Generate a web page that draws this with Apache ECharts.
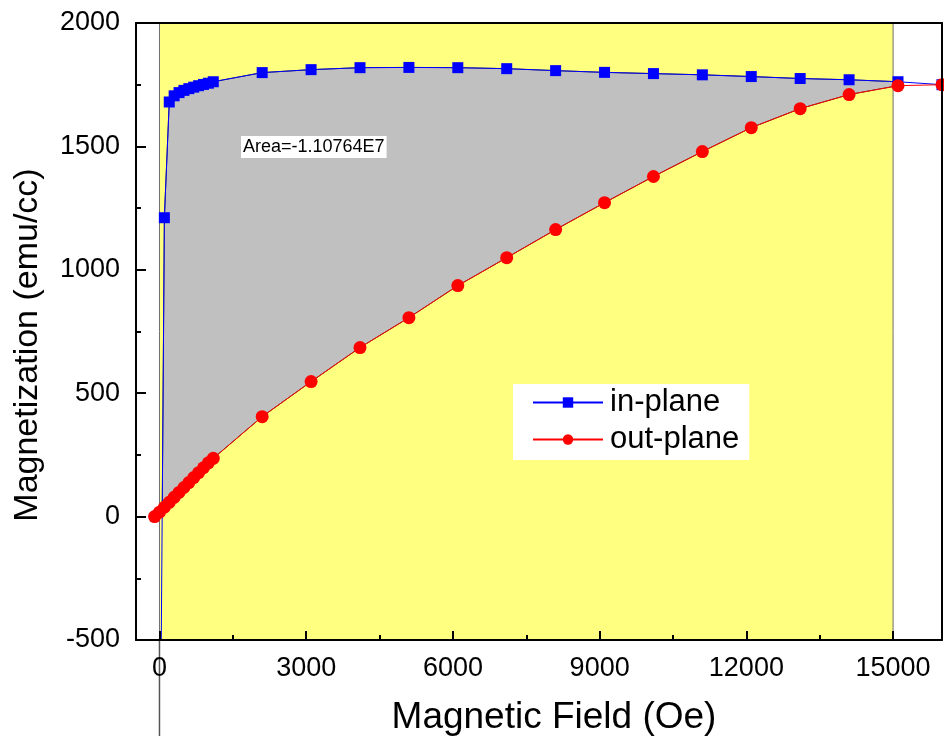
<!DOCTYPE html>
<html><head><meta charset="utf-8">
<script src="https://cdn.jsdelivr.net/npm/echarts@6/dist/echarts.min.js"></script>
<style>html,body{margin:0;padding:0;background:#fff}#c{width:944px;height:736px}</style>
</head><body><div id="c"></div>
<script>
// ---- data ----
const inPlaneX = [0, 100, 200, 300, 400, 500, 600, 700, 800, 900, 1000, 1100,
  2100, 3100, 4100, 5100, 6100, 7100, 8100, 9100, 10100, 11100, 12100, 13100, 14100, 15100, 16000];
const inPlaneY = [-1500, 1211, 1680, 1705, 1718, 1727, 1734, 1740, 1746, 1751, 1756, 1762,
  1799, 1811, 1819, 1820, 1819, 1815, 1807, 1800, 1795, 1790, 1783, 1775, 1770, 1762, 1750];
const outPlaneX = [-100, 0, 100, 200, 300, 400, 500, 600, 700, 800, 900, 1000, 1100,
  2100, 3100, 4100, 5100, 6100, 7100, 8100, 9100, 10100, 11100, 12100, 13100, 14100, 15100, 16000];
const outPlaneY = [0, 18, 38, 58, 78, 98, 118, 138, 158, 178, 198, 218, 236,
  405, 547, 685, 806, 936, 1049, 1163, 1272, 1378, 1479, 1576, 1653, 1710, 1746, 1750];
const xTickValues = [0, 3000, 6000, 9000, 12000, 15000];
const xMinorTickValues = [1500, 4500, 7500, 10500, 13500];
const areaRange = [0, 15000];
const areaLabel = 'Area=-1.10764E7';
const legendNames = ['in-plane', 'out-plane'];
const xTitle = 'Magnetic Field (Oe)';
const yTitle = 'Magnetization (emu/cc)';

// ---- helpers ----
function interp(xs, ys, x) {
  for (let i = 0; i < xs.length - 1; i++) {
    if (x >= xs[i] && x <= xs[i + 1]) {
      const t = (x - xs[i]) / (xs[i + 1] - xs[i]);
      return ys[i] + t * (ys[i + 1] - ys[i]);
    }
  }
  return NaN;
}
function fillPoints() {
  const lo = Math.max(areaRange[0], inPlaneX[0], outPlaneX[0]);
  const hi = areaRange[1];
  const g = x => interp(inPlaneX, inPlaneY, x) - interp(outPlaneX, outPlaneY, x);
  let a = lo, b = inPlaneX[1], x0 = lo;
  if (g(a) < 0) {
    for (let k = 0; k < 60; k++) { const m = (a + b) / 2; if (g(m) < 0) a = m; else b = m; }
    x0 = (a + b) / 2;
  }
  const pts = [[x0, interp(inPlaneX, inPlaneY, x0)]];
  inPlaneX.forEach((x, i) => { if (x > x0 && x < hi) pts.push([x, inPlaneY[i]]); });
  pts.push([hi, interp(inPlaneX, inPlaneY, hi)]);
  pts.push([hi, interp(outPlaneX, outPlaneY, hi)]);
  for (let i = outPlaneX.length - 1; i >= 0; i--) {
    if (outPlaneX[i] > x0 && outPlaneX[i] < hi) pts.push([outPlaneX[i], outPlaneY[i]]);
  }
  pts.push([x0, interp(outPlaneX, outPlaneY, x0)]);
  return pts;
}

const FONT = 'Liberation Sans, Arial, sans-serif';
const XMIN = -480, XMAX = 16000;
const chart = echarts.init(document.getElementById('c'), null, {renderer: 'canvas'});
const axisLineStyle = {color: '#000', width: 2};
const plain = v => String(v);

chart.setOption({
  animation: false,
  backgroundColor: '#fff',
  grid: {left: 136, right: 2, top: 23, bottom: 96, containLabel: false},
  legend: {
    data: legendNames,
    orient: 'vertical',
    left: 513, top: 384,
    backgroundColor: '#fff',
    padding: [3, 10, 5, 19],
    itemWidth: 70, itemHeight: 13, itemGap: 6,
    textStyle: {fontFamily: FONT, fontSize: 31, color: '#000', padding: [0, 0, 0, 2]}
  },
  graphic: [
    {
      type: 'text', left: 241, top: 136, z: 50,
      style: {text: areaLabel, font: '18px ' + FONT, fill: '#000', backgroundColor: '#fff', padding: [2, 2, 2, 2]}
    },
    {
      type: 'text', x: 554, y: 718, z: 50,
      style: {text: xTitle, font: '37px ' + FONT, fill: '#000', textAlign: 'center', textVerticalAlign: 'middle'}
    },
    {
      type: 'text', x: 28, y: 345, rotation: Math.PI / 2, z: 50,
      style: {text: yTitle, font: '34px ' + FONT, fill: '#000', textAlign: 'center', textVerticalAlign: 'middle'}
    }
  ],
  xAxis: [
    {
      type: 'value', min: XMIN, max: XMAX, position: 'bottom', z: 10,
      axisLine: {show: true, onZero: false, lineStyle: axisLineStyle},
      axisTick: {show: false},
      axisLabel: {show: true, customValues: xTickValues, margin: 15, fontFamily: FONT, fontSize: 27, color: '#000', formatter: plain},
      splitLine: {show: false}
    },
    {
      type: 'value', min: XMIN, max: XMAX, position: 'bottom', z: 11,
      axisLine: {show: false, onZero: false},
      axisTick: {show: true, inside: true, length: 9, customValues: xTickValues, lineStyle: {color: '#000', width: 2}},
      axisLabel: {show: false},
      splitLine: {show: false}
    },
    {
      type: 'value', min: XMIN, max: XMAX, position: 'bottom', z: 11,
      axisLine: {show: false, onZero: false},
      axisTick: {show: true, inside: true, length: 5, customValues: xMinorTickValues, lineStyle: {color: '#000', width: 2}},
      axisLabel: {show: false},
      splitLine: {show: false}
    },
    {
      type: 'value', min: XMIN, max: XMAX, position: 'top', z: 10,
      axisLine: {show: true, onZero: false, lineStyle: axisLineStyle},
      axisTick: {show: false}, axisLabel: {show: false}, splitLine: {show: false}
    }
  ],
  yAxis: [
    {
      type: 'value', min: -500, max: 2000, interval: 500, position: 'left', z: 10,
      axisLine: {show: true, onZero: false, lineStyle: axisLineStyle},
      axisTick: {show: true, inside: true, length: 10, lineStyle: {color: '#000', width: 2}},
      minorTick: {show: true, splitNumber: 2, length: 5, lineStyle: {color: '#000', width: 2}},
      axisLabel: {margin: 16, fontFamily: FONT, fontSize: 27, color: '#000', formatter: plain},
      splitLine: {show: false}, minorSplitLine: {show: false}
    },
    {
      type: 'value', min: -500, max: 2000, position: 'right', z: 10,
      axisLine: {show: true, onZero: false, lineStyle: axisLineStyle},
      axisTick: {show: false}, axisLabel: {show: false}, splitLine: {show: false}
    }
  ],
  series: [
    {
      name: 'range', type: 'line', z: 1, silent: true, symbol: 'none',
      data: [[areaRange[0], -500]], lineStyle: {opacity: 0},
      markArea: {
        silent: true,
        itemStyle: {color: '#FFFF80', borderColor: '#6e6e6e', borderWidth: 1},
        data: [[{xAxis: areaRange[0], yAxis: -500}, {xAxis: areaRange[1], yAxis: 2000}]]
      }
    },
    {
      name: 'fill', type: 'custom', z: 2, silent: true,
      data: [[0, 0]],
      renderItem: function (params, api) {
        const pts = fillPoints().map(p => api.coord(p));
        return {
          type: 'polygon',
          shape: {points: pts},
          style: {fill: '#C0C0C0', stroke: 'rgba(0,0,0,0.75)', lineWidth: 1}
        };
      }
    },
    {
      name: 'rangeLine', type: 'line', z: 3, silent: true, symbol: 'none', clip: false,
      data: [[areaRange[0], -500], [areaRange[0], -900]],
      lineStyle: {color: '#555', width: 1.5}
    },
    {
      name: 'in-plane', type: 'line', z: 4,
      data: inPlaneX.map((x, i) => [x, inPlaneY[i]]),
      symbol: 'rect', symbolSize: 11, showAllSymbol: true,
      itemStyle: {color: '#0000FF'},
      lineStyle: {color: '#0000FF', width: 1}
    },
    {
      name: 'out-plane', type: 'line', z: 5,
      data: outPlaneX.map((x, i) => [x, outPlaneY[i]]),
      symbol: 'circle', symbolSize: 13, showAllSymbol: true,
      itemStyle: {color: '#FF0000'},
      lineStyle: {color: '#FF0000', width: 1}
    }
  ]
});
</script>
</body></html>
